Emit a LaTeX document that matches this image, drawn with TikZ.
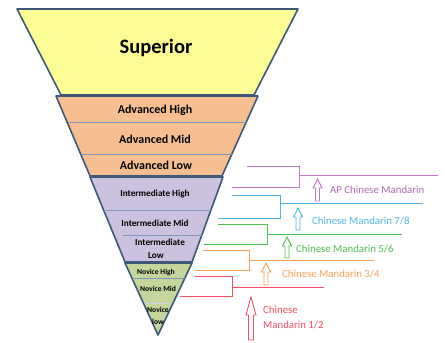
\documentclass[tikz,border=0pt]{standalone}
\usepackage{fontspec}
\setmainfont{Carlito}
\definecolor{edge}{RGB}{62,88,122}
\definecolor{divline}{RGB}{130,150,185}
\definecolor{supfill}{RGB}{253,253,150}
\definecolor{advfill}{RGB}{246,190,145}
\definecolor{intfill}{RGB}{204,193,222}
\definecolor{novfill}{RGB}{196,214,155}
\definecolor{cpurple}{RGB}{196,120,200}
\definecolor{cblue}{RGB}{80,180,232}
\definecolor{cgreen}{RGB}{80,190,80}
\definecolor{corange}{RGB}{250,160,90}
\definecolor{cred}{RGB}{240,80,95}
\newcommand\blockup[7]{% color, cx, top, headbottom, bottom, headhalf, shafthalf
  \draw[#1,line width=0.9pt,fill=white] (#2,#3) -- (#2+#6,#4) -- (#2+#7,#4) -- (#2+#7,#5) -- (#2-#7,#5) -- (#2-#7,#4) -- (#2-#6,#4) -- cycle;}
\tikzset{
  level/.style={draw=edge,line width=1.6pt,line join=round},
  div/.style={draw=divline,line width=0.9pt},
  brk/.style={line width=0.9pt},
  lab/.style={font=\fontsize{10.8}{12}\selectfont,anchor=west,inner sep=0pt},
}
\begin{document}
\begin{tikzpicture}[x=1pt,y=-1pt]
\useasboundingbox[fill=white] (0,0) rectangle (445,343);
% levels
\path[level,fill=supfill] (17,9) -- (298,9) -- (254,95) -- (61,95) -- cycle;
\path[level,fill=advfill] (56,96) -- (258,96) -- (222,176) -- (90,176) -- cycle;
\path[level,fill=intfill] (90,177) -- (223,177) -- (192,262) -- (125,262) -- cycle;
\path[level,fill=novfill] (125,263) -- (192,263) -- (158,335) -- cycle;
% dividers
\draw[div] (68,122) -- (246,122);
\draw[div] (81,154) -- (232,154);
\draw[div] (104,210) -- (211,210);
\draw[div] (123,235) -- (202,235);
\draw[div] (134,278) -- (185,278);
\draw[divline!40,line width=0.6pt] (145,303) -- (170,303);
% labels in levels
\node[font=\fontsize{20.5}{24}\selectfont\bfseries] (sup) at (156,48) {Superior};
\node[font=\fontsize{12}{14}\selectfont\bfseries] (advh) at (155,110) {Advanced High};
\node[font=\fontsize{12}{14}\selectfont\bfseries] (advm) at (155,139) {Advanced Mid};
\node[font=\fontsize{12}{14}\selectfont\bfseries] (advl) at (156,165) {Advanced Low};
\node[font=\fontsize{9.2}{11}\selectfont\bfseries] (inth) at (155,194) {Intermediate High};
\node[font=\fontsize{9.2}{11}\selectfont\bfseries] (intm) at (155,223) {Intermediate Mid};
\node[font=\fontsize{9.2}{11}\selectfont\bfseries] (intl1) at (160,242) {Intermediate};
\node[font=\fontsize{9.2}{11}\selectfont\bfseries] (intl2) at (156,256) {Low};
\node[font=\fontsize{7.6}{9}\selectfont\bfseries] (novh) at (156,272) {Novice High};
\node[font=\fontsize{7.6}{9}\selectfont\bfseries] (novm) at (158,289) {Novice Mid};
\node[font=\fontsize{7.6}{9}\selectfont\bfseries] (novl1) at (158,310) {Novice};
\node[font=\fontsize{7.6}{9}\selectfont\bfseries] (novl2) at (158,322) {low};
% purple bracket
\draw[brk,cpurple] (247,166) -- (299,166) -- (299,187) -- (232,187);
\draw[brk,cpurple] (299,175) -- (438,175);
\blockup{cpurple}{317.5}{179}{188}{201}{4.5}{2}
\node[lab,text=cpurple!90!black] (ap) at (330,190) {AP Chinese Mandarin};
% blue bracket
\draw[brk,cblue] (232,195) -- (280,195) -- (280,218) -- (218,218);
\draw[brk,cblue] (280,203) -- (423,203);
\blockup{cblue}{298}{208}{217}{230}{4.5}{2}
\node[lab,text=cblue] (c78) at (312,221) {Chinese Mandarin 7/8};
% green bracket
\draw[brk,cgreen] (218,224) -- (267,224) -- (267,244) -- (204,244);
\draw[brk,cgreen] (267,234) -- (402,234);
\blockup{cgreen}{287}{237}{246}{258}{4.5}{2}
\node[lab,text=cgreen] (c56) at (296,249) {Chinese Mandarin 5/6};
% orange bracket
\draw[brk,corange] (203,250) -- (249,250) -- (249,270) -- (195,270);
\draw[brk,corange] (249,260) -- (374,260);
\blockup{corange}{266}{263}{272}{285}{4.5}{2}
\node[lab,text=corange] (c34) at (282,274) {Chinese Mandarin 3/4};
% red bracket
\draw[brk,cred] (195,276) -- (232,276) -- (232,296) -- (180,296);
\draw[brk,cred] (232,287) -- (324,287);
\blockup{cred}{251}{297}{315}{340}{5}{2.5}
\node[lab,text=cred] (c12a) at (263,310) {Chinese};
\node[lab,text=cred] (c12b) at (263,325) {Mandarin 1/2};
\end{tikzpicture}
\end{document}
